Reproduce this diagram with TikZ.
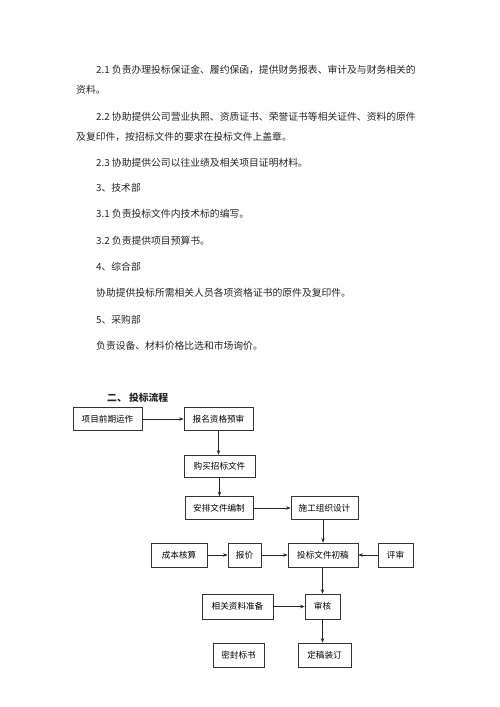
\documentclass[tikz,border=0pt]{standalone}
\usepackage{fontspec}
\newfontfamily\cjk{Noto Sans CJK SC}
\usetikzlibrary{arrows.meta}
\tikzset{
  bodyline/.style={anchor=west,inner sep=0pt,text=black!85,font=\cjk\fontsize{9.8}{12}\selectfont},
  fullline/.style={bodyline,text width=327pt,align=justify},
  flowbox/.style={draw=black!80,line width=0.7pt,inner sep=0pt,minimum height=23pt,font=\cjk\fontsize{8.6}{10}\selectfont},
  flowarrow/.style={-{Stealth[length=4.5pt,width=3.5pt]},line width=0.7pt,draw=black!85}
}
\newcommand{\stretchline}{\XeTeXlinebreaklocale "zh"\XeTeXlinebreakskip=0pt plus 1pt\parfillskip=0pt\relax}
\begin{document}
\begin{tikzpicture}[x=1pt,y=-1pt]
\useasboundingbox[fill=white] (0,0) rectangle (500,707);
\node[fullline] (t21) at (96,70) {\stretchline 2.1\ 负责办理投标保证金、履约保函，提供财务报表、审计及与财务相关的};
\node[bodyline] (t21b) at (76,90) {资料。};
\node[fullline] (t22) at (96,117) {\stretchline 2.2\ 协助提供公司营业执照、资质证书、荣誉证书等相关证件、资料的原件};
\node[bodyline] (t22b) at (76,137) {及复印件，按招标文件的要求在投标文件上盖章。};
\node[bodyline] (t23) at (96,163) {2.3 协助提供公司以往业绩及相关项目证明材料。};
\node[bodyline] (t3) at (96,188) {3、技术部};
\node[bodyline] (t31) at (96,214) {3.1 负责投标文件内技术标的编写。};
\node[bodyline] (t32) at (96,241) {3.2 负责提供项目预算书。};
\node[bodyline] (t4) at (96,267) {4、综合部};
\node[bodyline] (t41) at (96,293) {协助提供投标所需相关人员各项资格证书的原件及复印件。};
\node[bodyline] (t5) at (96,320) {5、采购部};
\node[bodyline] (t51) at (96,346) {负责设备、材料价格比选和市场询价。};
\node[bodyline,font=\cjk\bfseries\fontsize{9.8}{12}\selectfont] (title) at (107,398) {二、 投标流程};
\node[flowbox,minimum width=69pt] (early) at (107.5,419) {项目前期运作};
\node[flowbox,minimum width=69pt] (signup) at (218.5,419) {报名资格预审};
\node[flowbox,minimum width=71pt,minimum height=22pt] (buy) at (219.5,466) {购买招标文件};
\node[flowbox,minimum width=68pt] (arrange) at (219,508) {安排文件编制};
\node[flowbox,minimum width=67pt] (design) at (324.5,508) {施工组织设计};
\node[flowbox,minimum width=56pt,minimum height=24pt] (cost) at (179,555) {成本核算};
\node[flowbox,minimum width=33pt,minimum height=24pt] (quote) at (244.5,555) {报价};
\node[flowbox,minimum width=70pt,minimum height=24pt] (draft) at (323,555) {投标文件初稿};
\node[flowbox,minimum width=35pt,minimum height=24pt] (review) at (395.5,555) {评审};
\node[flowbox,minimum width=71pt,minimum height=25pt] (docs) at (237.5,606.5) {相关资料准备};
\node[flowbox,minimum width=35pt,minimum height=25pt] (check) at (322.5,606.5) {审核};
\node[flowbox,minimum width=51pt,minimum height=24pt] (seal) at (238.5,655) {密封标书};
\node[flowbox,minimum width=53pt,minimum height=24pt] (final) at (324.5,655) {定稿装订};
\draw[flowarrow] (early) -- (signup);
\draw[flowarrow] (signup) -- (signup |- buy.north);
\draw[flowarrow] (buy) -- (buy |- arrange.north);
\draw[flowarrow] (arrange) -- (design);
\draw[flowarrow] (design.south -| draft) -- (draft);
\draw[flowarrow] (cost) -- (quote);
\draw[flowarrow] (quote) -- (draft);
\draw[flowarrow] (review) -- (draft);
\draw[flowarrow] (draft.south -| check) -- (check);
\draw[flowarrow] (docs) -- (check);
\draw[flowarrow] (check) -- (check |- final.north);
\end{tikzpicture}
\end{document}
